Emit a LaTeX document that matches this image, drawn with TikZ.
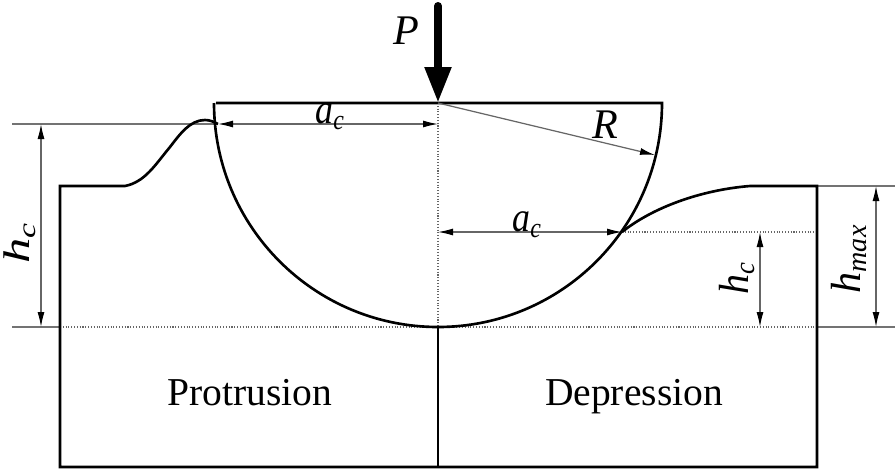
\documentclass[tikz,border=0pt]{standalone}
\usepackage{fontspec}
\setmainfont{Liberation Serif}
\usetikzlibrary{arrows.meta}
\tikzset{
	outline/.style={line width=1.5pt},
	thinline/.style={line width=0.6pt,draw=black!55},
	dotline/.style={line width=0.6pt,draw=black!60,densely dotted},
	dimline/.style={line width=0.7pt,draw=black!60,{Latex[length=15*0.02cm,width=7*0.02cm,black]}-{Latex[length=15*0.02cm,width=7*0.02cm,black]}},
	lab/.style={inner sep=0pt,anchor=base,font=\fontsize{24}{24}\selectfont\itshape},
	plain/.style={inner sep=0pt,anchor=base,font=\fontsize{22.5}{22.5}\selectfont},
}
\newcommand{\subc}[1]{\textsubscript{\fontsize{16}{16}\selectfont #1}}
\begin{document}
\begin{tikzpicture}[x=0.02cm,y=-0.02cm]
	\useasboundingbox (0,0) rectangle (896,471);
	\fill[white] (0,0) rectangle (896,471);
	% reference levels
	\coordinate (c) at (438,103);
	\coordinate (m) at (438,327);
	\coordinate (lc) at (218,124);
	\coordinate (rc) at (622,232);
	\draw[dotline] (c) -- (m);
	\draw[dotline] (60,327) -- (817,327);
	\draw[dotline] (rc) -- (817,232);
	\draw[thinline] (12,124) -- (lc);
	\draw[thinline] (12,327) -- (60,327);
	\draw[thinline] (817,327) -- (895,327);
	\draw[thinline] (817,186) -- (895,186);
	% indenter
	\draw[outline] (216,103) -- (662,103) arc (0:180:224);
	% specimen
	\draw[outline] (lc) .. controls (214,122) and (210,120) .. (205,120)
		.. controls (190,120) and (180,134) .. (170,147)
		.. controls (155,165) and (145,182) .. (125,186)
		-- (60,186) -- (60,467) -- (817,467) -- (817,186) -- (750,186)
		.. controls (700,190) and (652,208) .. (rc);
	\draw[outline] (m) -- (438,467);
	% dimensions
	\draw[dimline] (lc) -- (438,124);
	\draw[dimline] (438,232) -- (rc);
	\draw[dimline] (41,124) -- (41,327);
	\draw[dimline] (760,232) -- (760,327);
	\draw[dimline] (876,186) -- (876,327);
	\draw[line width=0.7pt,draw=black!60,-{Latex[length=15*0.02cm,width=7*0.02cm,black]}] (c) -- (655,155);
	% load
	\draw[line width=8*0.02cm,line cap=round,-{Triangle[length=36*0.02cm,width=25*0.02cm]}] (438,6) -- (438,103);
	% labels
	\node[lab] (p) at (406,44) {P};
	\node[lab] (r) at (605,138) {R};
	\node[lab,xscale=0.85] (a1) at (330,123) {a\subc{c}};
	\node[lab,xscale=0.85] (a2) at (527,231) {a\subc{c}};
	\node[lab,rotate=90,anchor=base,xscale=1.2,yscale=0.88] (h1) at (30,243) {h\subc{c}};
	\node[lab,rotate=90,anchor=base,xscale=0.95] (h2) at (748,278) {h\subc{c}};
	\node[lab,rotate=90,anchor=base] (h3) at (860,259) {h\subc{max}};
	\node[plain] (pr) at (250,405) {Protrusion};
	\node[plain] (de) at (634,405) {Depression};
\end{tikzpicture}
\end{document}
